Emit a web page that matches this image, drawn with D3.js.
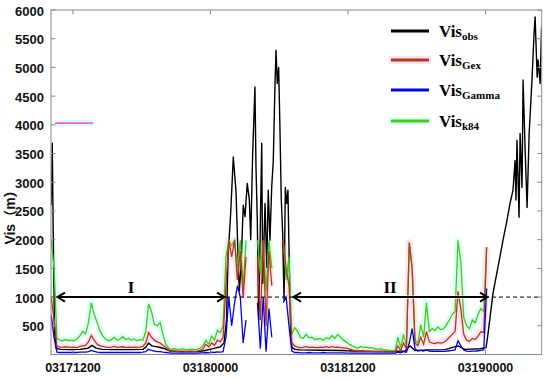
<!DOCTYPE html>
<html><head><meta charset="utf-8">
<script src="https://cdn.jsdelivr.net/npm/d3@7"></script>
<style>body{margin:0;background:#fff}svg{display:block}</style>
</head><body>
<svg id="chart" width="550" height="379"></svg>
<script>
// ---------- data (hours relative to 03171200) ----------
const xTickHours = [0, 12, 24, 36];
const xTickLabels = ["03171200", "03180000", "03181200", "03190000"];
const yTicks = [500, 1000, 1500, 2000, 2500, 3000, 3500, 4000, 4500, 5000, 5500, 6000];

// model series sampled every 0.25 h starting at -1.9 h
const modelStart = -1.9, modelStep = 0.25;
const visK84 = [1990,1500,280,250,240,260,240,250,240,270,330,400,360,560,900,700,560,420,320,270,
240,260,300,250,270,310,260,280,250,270,240,260,250,400,880,750,520,500,560,350,
180,110,90,100,85,90,100,80,90,95,85,90,110,150,250,180,320,250,420,380,
500,1700,1990,1900,1990,1500,1990,1200,1990,null,null,null,1990,1400,1990,1100,1990,1500,null,null,
null,1990,1300,1700,350,470,400,300,280,350,290,300,260,270,280,250,290,270,330,280,
350,300,250,220,180,150,130,110,140,120,130,110,120,100,90,100,80,80,70,70,
60,300,120,350,150,1950,1500,250,200,520,300,900,400,450,420,480,430,450,520,600,
700,750,1990,1600,650,500,450,600,550,700,800,750,1870,
null,null,null,null,null,null,null,null,null,null,null,null,null,null,null,null,null,null,null];
const visGex = [1000,600,140,130,125,135,130,125,130,120,140,150,160,220,330,250,180,150,140,130,
125,130,140,125,130,135,125,130,125,130,125,130,140,200,380,300,250,220,200,160,
120,80,60,60,55,60,60,55,60,60,55,60,70,100,180,130,200,160,250,220,
300,1200,1990,1700,1990,1300,1800,1000,1700,null,null,null,1700,600,1990,500,1800,1200,null,null,
null,1990,1500,1200,200,150,130,120,125,140,120,130,125,120,130,125,135,120,140,125,
130,120,115,110,100,80,70,60,65,60,55,60,55,50,50,55,50,45,50,45,
45,150,70,200,100,1950,1500,200,150,300,180,400,220,200,190,210,200,210,250,300,
350,400,1100,800,350,250,230,280,260,320,400,380,1870,
null,null,null,null,null,null,null,null,null,null,null,null,null,null,null,null,null,null,null];
const visGamma = [680,300,40,35,35,35,35,35,35,35,40,40,40,50,70,55,40,35,35,35,
35,35,35,35,35,35,35,35,35,35,35,35,40,50,90,70,60,50,50,40,
35,30,25,25,25,25,25,25,25,25,25,25,30,30,35,30,40,35,45,40,
50,300,1000,500,900,1200,1000,200,600,null,null,null,900,100,1000,50,800,300,null,null,
null,900,1000,500,60,35,35,30,30,30,35,30,30,30,30,35,30,30,30,30,
30,30,30,25,25,25,25,25,25,25,25,25,25,25,25,25,25,25,25,25,
25,40,30,50,40,200,450,100,60,70,60,80,60,55,55,55,55,55,60,65,
70,80,240,150,80,60,55,60,60,65,70,80,1150,
null,null,null,null,null,null,null,null,null,null,null,null,null,null,null,null,null,null,null];

// observation series, irregular sampling (hours)
const obsHours = [-1.90,-1.81,-1.72,-1.61,-1.48,-1.13,-0.26,0.61,1.31,1.66,2.01,2.53,3.67,4.97,6.11,6.37,6.59,6.89,7.42,8.03,
8.47,9.34,10.21,11.08,11.52,11.96,12.39,12.83,13.18,13.40,13.53,13.76,13.99,14.08,14.23,14.34,14.51,14.66,14.86,15.01,
15.21,15.39,15.51,15.68,15.88,15.97,16.08,16.21,16.47,16.56,16.76,16.91,17.04,17.19,17.34,17.48,17.63,17.72,17.83,17.95,
18.07,18.18,18.30,18.42,18.53,18.65,18.76,18.88,19.00,19.11,19.38,19.81,21.56,23.30,24.61,25.92,27.67,28.98,29.41,29.85,
31.16,32.47,33.60,34.21,35.52,36.05,36.22,36.65,37.09,37.53,37.88,38.14,38.40,38.58,38.66,38.75,38.93,39.02,39.19,39.28,
39.46,39.63,39.81,40.07,40.24,40.33,40.51,40.59,40.77,40.89];
const visObs = [2600,3680,2000,400,110,90,85,90,110,160,110,90,85,85,90,130,200,150,130,100,
60,50,50,55,70,90,110,130,200,600,1700,2450,3440,3210,2830,2110,1100,1500,2600,2400,
2980,2690,2000,3500,4660,3260,2390,600,3680,1240,2630,1520,2860,1990,2910,3380,4720,5300,4720,5000,
3850,2690,2100,940,2910,2630,2860,1520,360,120,90,80,75,70,60,55,55,60,150,70,
80,85,150,90,100,120,360,1060,1520,1990,2340,2630,2860,3380,2690,3730,2390,3850,2910,4780,
3560,2560,3850,4830,5600,5880,4830,5130,4720,5700];

// stray pink mark near 4000 m in the original figure
const strayHours = [-1.57, 1.75];
const strayVis = [4030, 4030];

// annotations
const periodI = [-1.40, 13.27], periodII = [19.20, 36.22];
const labelHours = [5.06, 27.67], labelTexts = ["I", "II"];
const thresholdVis = 1000;

const legendItems = [
  {name: "Vis", sub: "obs", color: "#000000", halo: null},
  {name: "Vis", sub: "Gex", color: "#b03a1c", halo: "#ffe3ef"},
  {name: "Vis", sub: "Gamma", color: "#0000f0", halo: null},
  {name: "Vis", sub: "k84", color: "#44cc14", halo: "#dcfff8"}
];

// ---------- layout ----------
const svg = d3.select("#chart");
const L = 51, R = 541.7, T = 10, B = 354.5;
const x = d3.scaleLinear().domain([-1.92, 40.906]).range([L, R]);
const y = d3.scaleLinear().domain([0, 6000]).range([B, T]);
const sans = "'Liberation Sans', Arial, sans-serif";
const serif = "'Liberation Serif', 'Times New Roman', serif";

svg.append("defs").append("clipPath").attr("id", "clip")
  .append("rect").attr("x", L).attr("y", T).attr("width", R - L).attr("height", B - T);

const modelData = arr => arr.map((v, i) => ({h: modelStart + i * modelStep, v}));
const k84 = modelData(visK84), gex = modelData(visGex), gam = modelData(visGamma);
const obs = obsHours.map((h, i) => ({h, v: visObs[i]}));
const line = d3.line().defined(d => d.v != null).x(d => x(d.h)).y(d => y(d.v));

const plot = svg.append("g").attr("clip-path", "url(#clip)");

// halos
plot.append("path").datum(k84).attr("d", line).attr("fill", "none")
  .attr("stroke", legendItems[3].halo).attr("stroke-width", 7).attr("stroke-linejoin", "round");
plot.append("path").datum(gex).attr("d", line).attr("fill", "none")
  .attr("stroke", legendItems[1].halo).attr("stroke-width", 6).attr("stroke-linejoin", "round");
// stray mark
const stray = strayHours.map((h, i) => ({h, v: strayVis[i]}));
plot.append("path").datum(stray).attr("d", line).attr("stroke", "#d6fff8").attr("stroke-width", 6);
plot.append("path").datum(stray).attr("d", line).attr("stroke", "#ff5ccf").attr("stroke-width", 1.6);

// lines
plot.append("path").datum(obs).attr("d", line).attr("fill", "none")
  .attr("stroke", "#000").attr("stroke-width", 1.4).attr("stroke-linejoin", "round");
plot.append("path").datum(k84).attr("d", line).attr("fill", "none")
  .attr("stroke", legendItems[3].color).attr("stroke-width", 1.3);
plot.append("path").datum(gex).attr("d", line).attr("fill", "none")
  .attr("stroke", legendItems[1].color).attr("stroke-width", 1.3);
plot.append("path").datum(gam).attr("d", line).attr("fill", "none")
  .attr("stroke", legendItems[2].color).attr("stroke-width", 1.3);

// threshold dashed line
plot.append("line").attr("x1", L).attr("x2", R).attr("y1", y(thresholdVis)).attr("y2", y(thresholdVis))
  .attr("stroke", "#000").attr("stroke-width", 1).attr("stroke-dasharray", "4,3");

// double arrows
function dblArrow(p) {
  const yy = y(thresholdVis), x1 = x(p[0]), x2 = x(p[1]);
  const g = svg.append("g").attr("stroke", "#000").attr("stroke-width", 2).attr("fill", "none");
  g.append("line").attr("x1", x1).attr("x2", x2).attr("y1", yy).attr("y2", yy).attr("stroke", "#fff").attr("stroke-width", 3);
  g.append("line").attr("x1", x1).attr("x2", x2).attr("y1", yy).attr("y2", yy);
  g.append("path").attr("d", `M${x1 + 8},${yy - 4.5}L${x1 + 0.5},${yy}L${x1 + 8},${yy + 4.5}`);
  g.append("path").attr("d", `M${x2 - 8},${yy - 4.5}L${x2 - 0.5},${yy}L${x2 - 8},${yy + 4.5}`);
}
dblArrow(periodI); dblArrow(periodII);
svg.selectAll("text.period").data(labelTexts).join("text").attr("class", "period")
  .attr("x", (d, i) => x(labelHours[i])).attr("y", y(thresholdVis) - 4)
  .attr("text-anchor", "middle").attr("font-family", serif).attr("font-weight", "bold")
  .attr("font-size", 17).text(d => d);

// ---------- axes box ----------
const axisColor = "#8a8a8a";
svg.append("rect").attr("x", L).attr("y", T).attr("width", R - L).attr("height", B - T)
  .attr("fill", "none").attr("stroke", axisColor).attr("stroke-width", 1);
const tl = 4.5;
yTicks.forEach(t => {
  svg.append("line").attr("x1", L).attr("x2", L + tl).attr("y1", y(t)).attr("y2", y(t)).attr("stroke", axisColor);
  svg.append("line").attr("x1", R).attr("x2", R - tl).attr("y1", y(t)).attr("y2", y(t)).attr("stroke", axisColor);
});
xTickHours.forEach(t => {
  svg.append("line").attr("x1", x(t)).attr("x2", x(t)).attr("y1", T).attr("y2", T + tl).attr("stroke", axisColor);
  svg.append("line").attr("x1", x(t)).attr("x2", x(t)).attr("y1", B).attr("y2", B - tl).attr("stroke", axisColor);
});
svg.selectAll("text.yt").data(yTicks).join("text").attr("class", "yt")
  .attr("x", 44).attr("y", d => y(d) + 5.5).attr("text-anchor", "end")
  .attr("font-family", sans).attr("font-weight", "bold").attr("font-size", 13).attr("fill", "#111")
  .text(d => d);
svg.selectAll("text.xt").data(xTickHours).join("text").attr("class", "xt")
  .attr("x", d => x(d)).attr("y", 372).attr("text-anchor", "middle")
  .attr("font-family", sans).attr("font-weight", "bold").attr("font-size", 12.5).attr("fill", "#111")
  .text((d, i) => xTickLabels[i]);
svg.append("text").attr("transform", "translate(15,214) rotate(-90)").attr("text-anchor", "middle")
  .attr("font-family", sans + ", 'Noto Sans CJK SC'").attr("font-weight", "bold").attr("font-size", 14)
  .attr("fill", "#111").text("Vis（m）");

// ---------- legend ----------
const legY = [31, 60, 90, 121];
legendItems.forEach((d, i) => {
  const g = svg.append("g");
  if (d.halo) g.append("line").attr("x1", 389).attr("x2", 431).attr("y1", legY[i]).attr("y2", legY[i])
    .attr("stroke", d.halo).attr("stroke-width", 8);
  g.append("line").attr("x1", 391).attr("x2", 429).attr("y1", legY[i]).attr("y2", legY[i])
    .attr("stroke", d.color).attr("stroke-width", 3);
  const t = g.append("text").attr("x", 439).attr("y", legY[i] + 6)
    .attr("font-family", serif).attr("font-weight", "bold").attr("font-size", 17).attr("fill", "#000");
  t.append("tspan").text(d.name);
  t.append("tspan").attr("font-size", 11).attr("dy", 3).text(d.sub);
});
</script>
</body></html>
